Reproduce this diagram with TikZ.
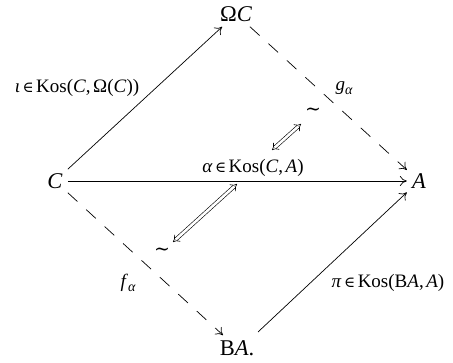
\documentclass[tikz,border=0pt]{standalone}
\usepackage{fontspec}
\setmainfont{Liberation Serif}
\newfontfamily\symf{DejaVu Serif}
\usetikzlibrary{arrows.meta}
\newcommand{\mysub}[1]{\raisebox{-4pt}{\fontsize{14}{14}\selectfont\itshape #1}}
\newcommand{\myin}{\hspace{2.5pt}{\symf\fontsize{15}{15}\selectfont ∈}\hspace{2.5pt}}
\newcommand{\cm}{,\hspace{2.5pt}}
\begin{document}
\begin{tikzpicture}[x=1pt,y=-1pt,
  every node/.style={font=\fontsize{19}{23}\selectfont, inner sep=0pt},
  obj/.style={inner sep=5pt, font=\fontsize{22.5}{26}\selectfont},
  lab/.style={},
  arr/.style={line width=0.7pt, -{To[length=7pt,width=10pt]}},
  darr/.style={arr, dash pattern=on 13pt off 12pt},
  cell/.style={line width=0.6pt, double distance=2.6pt, {Implies[length=6pt]}-{Implies[length=6pt]}}]
\useasboundingbox (0,0) rectangle (453,363);
\node[obj] (O) at (236,14) {Ω\textit{C}};
\node[obj] (C) at (55,181) {\textit{C}};
\node[obj] (A) at (419,181) {\textit{A}};
\node[obj] (B) at (237,348) {B\textit{A}.};
\coordinate (Bs) at (258,332);
\draw[arr] (C) -- (O);
\draw[darr] (O) -- (A);
\draw[arr] (C) -- (A);
\draw[darr] (C) -- (B);
\draw[arr] (Bs) -- (A);
\node[lab] (l1) at (77,88) {\textit{ι}\myin Kos(\textit{C}\cm Ω(\textit{C}))};
\node[lab] (l2) at (344,88) {\textit{g}\mysub{α}};
\node[lab] (l3) at (253,168) {\textit{α}\myin Kos(\textit{C}\cm\textit{A})};
\node[lab] (l4) at (388,283) {\textit{π}\myin Kos(B\textit{A}\cm\textit{A})};
\node[lab] (l5) at (128,283) {\textit{f}\mysub{α}};
\node[lab] (t1) at (162,252) {{\symf ∼}};
\node[lab] (t2) at (313,112) {{\symf ∼}};
\coordinate (c1a) at (173,242);
\coordinate (c1b) at (237,184);
\coordinate (c2a) at (272,150);
\coordinate (c2b) at (301,124);
\draw[cell] (c1a) -- (c1b);
\draw[cell] (c2a) -- (c2b);
\end{tikzpicture}
\end{document}
